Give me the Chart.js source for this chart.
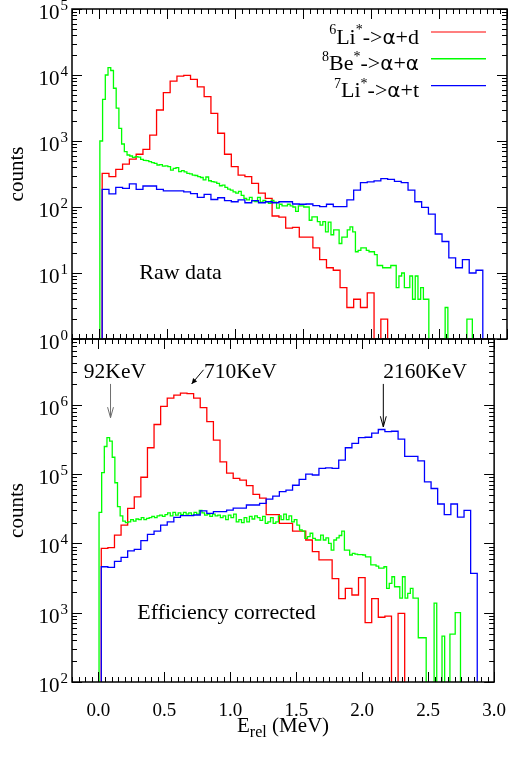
<!DOCTYPE html>
<html>
<head>
<meta charset="utf-8">
<script src="https://cdn.jsdelivr.net/npm/chart.js"></script>
<style>
  body { margin: 0; background: #fff; }
  #wrap { position: relative; width: 524px; height: 767px; }
  #wrap canvas { position: absolute; left: 0; top: 0; }
</style>
</head>
<body>
<div id="wrap">
  <canvas id="effChart" width="524" height="767"></canvas>
  <canvas id="rawChart" width="524" height="767"></canvas>
</div>
<script>
// binning (MeV): red and blue use 50 keV bins, green 20 keV bins
var rbStart = 0.022, rbWidth = 0.05;
var gStart = 0.005, gWidth = 0.02;

var xMin = -0.2, xMax = 3.0, xMinorStep = 0.05;
var xTicks = [0, 0.5, 1, 1.5, 2, 2.5, 3];
var rawYTicks = [1, 10, 100, 1000, 10000, 100000];
var effYTicks = [100, 1000, 10000, 100000, 1000000];
var rawYRange = [1, 1e5];
var effYRange = [100, 8.9e6];

// legend names: [text, 0 normal / 1 superscript / 2 symbol]
var seriesNames = [
  [['6', 1], ['Li', 0], ['*', 1], ['->', 0], ['\u03b1', 2], ['+d', 0]],
  [['8', 1], ['Be', 0], ['*', 1], ['->', 0], ['\u03b1', 2], ['+', 0], ['\u03b1', 2]],
  [['7', 1], ['Li', 0], ['*', 1], ['->', 0], ['\u03b1', 2], ['+t', 0]]
];
var seriesColors = ['rgb(255,0,0)', 'rgb(0,255,0)', 'rgb(0,0,255)'];

// raw data (counts per bin)
var rawRed = [324, 288, 372, 446, 530, 630, 745, 1230, 2950, 5400, 8100, 9600, 9900, 8560, 6630, 4700, 2630, 1310, 630, 410,
  303, 288, 228, 162, 135, 73, 70, 48, 49, 35, 35, 24, 16, 12, 11, 6, 3, 4, 3, 5, 0, 2];
var rawGreen = [1000, 4270, 10000, 12900, 11700, 6300, 3150, 1550, 900, 690,
  614, 593, 566, 580, 570, 526, 510, 503, 486, 470,
  457, 433, 440, 417, 420, 410, 363, 385, 395, 343,
  355, 340, 324, 318, 305, 300, 288, 280, 257, 285,
  250, 242, 238, 228, 210, 215, 198, 187, 180, 170,
  162, 172, 150, 135, 128, 140, 124, 121, 140, 118,
  126, 120, 114, 126, 118, 96, 110, 104, 104, 110,
  104, 100, 86, 104, 104, 100, 100, 63, 71, 71,
  60, 53, 60, 42, 59, 38, 45, 45, 28, 35,
  35, 45, 50, 42, 21, 22, 24, 24, 22, 21,
  21, 19, 13, 13, 12, 12, 12, 13, 13, 6,
  9, 10, 6, 6, 9, 4, 9, 4, 6, 4,
  4, 0, 0, 0, 0, 0, 0, 3, 0, 0,
  0, 0, 0, 0, 0, 2, 2];
var rawBlue = [185, 158, 199, 192, 224, 185, 208, 208, 185, 176, 176, 176, 170, 160, 140, 155, 130, 138, 125, 120,
  128, 116, 125, 116, 120, 116, 120, 120, 111, 110, 111, 105, 101, 110, 101, 101, 128, 180, 234, 240,
  248, 270, 262, 245, 234, 180, 120, 99, 78, 39, 30, 17, 12, 16, 10, 11];

// efficiency corrected
var effRed = [8500, 8700, 13200, 18400, 32000, 47000, 90000, 240000, 520000, 950000,
  1250000, 1380000, 1470000, 1450000, 1250000, 910000, 570000, 310000, 150000, 103000,
  87000, 82000, 68000, 51000, 45000, 26000, 26000, 19400, 19400, 15000,
  15000, 11200, 7600, 5800, 5800, 3100, 1600, 2240, 1800, 3200,
  720, 1600, 860, 895, 0, 980];
var effGreen = [28000, 105000, 250000, 335000, 300000, 175000, 75000, 34000, 25000, 21000,
  20000, 20500, 22000, 21000, 22500, 22000, 23500, 22000, 23000, 23500,
  24500, 23500, 25000, 25500, 24500, 26000, 27500, 25000, 28000, 25500,
  27500, 26000, 28000, 26500, 27500, 25500, 28000, 26500, 30000, 27500,
  25500, 26500, 24500, 26500, 25000, 25500, 23500, 25000, 22000, 25500,
  23500, 26500, 20500, 22000, 20000, 23500, 20500, 24500, 22500, 25000,
  23500, 21500, 24500, 19500, 20500, 23500, 19500, 20500, 25000, 22000,
  26500, 22000, 25000, 20500, 22000, 18400, 15600, 15000, 11800, 12500,
  14000, 11800, 11200, 11200, 13200, 11200, 12000, 10000, 8000, 11200,
  12000, 13000, 15000, 8000, 8000, 6800, 7200, 7000, 6900, 6900,
  6800, 6400, 6400, 4900, 4900, 4700, 4400, 4400, 4600, 2240,
  2650, 3300, 2370, 2370, 1620, 3300, 1620, 1900, 2240, 1620,
  1620, 435, 435, 435, 0, 0, 0, 1370, 0, 0,
  460, 0, 0, 490, 490, 1000, 1000];
var effBlue = [4600, 4500, 5500, 6300, 7800, 8200, 11000, 13500, 15000, 18400,
  20500, 23700, 25100, 25100, 25700, 29500, 27200, 28700, 28700, 30300,
  32200, 32200, 35800, 35800, 37800, 43400, 48000, 55700, 58700, 69000,
  84000, 100000, 97000, 121000, 123000, 121000, 159000, 240000, 277000, 335000,
  340000, 390000, 440000, 410000, 415000, 320000, 180000, 180000, 155000, 77000,
  62000, 37000, 26000, 37000, 24000, 30000, 3700];

// peak annotations on the corrected panel: text position, arrow tail, arrow tip (data coords)
var peakNotes = [
  { text: '92KeV', at: [-0.11, 2.44e6], from: [0.092, 2.0e6], to: [0.092, 6.5e5], color: '#6e6e6e', head: 'open' },
  { text: '710KeV', at: [0.80, 2.44e6], from: [0.797, 3.2e6], to: [0.707, 2.0e6], color: '#000', head: 'filled' },
  { text: '2160KeV', at: [2.16, 2.44e6], from: [2.16, 2.0e6], to: [2.16, 4.8e5], color: '#000', head: 'open' }
];

var serif = '"Liberation Serif", "Times New Roman", serif';
var symbolFont = '"DejaVu Sans", sans-serif';

function histPoints(counts, start, width, floor) {
  var pts = [{ x: start, y: floor }];
  counts.forEach(function (c, i) {
    pts.push({ x: start + i * width, y: c > 0 ? c : floor });
  });
  pts.push({ x: start + counts.length * width, y: floor });
  return pts;
}

// text made of pieces: 0 normal, 1 superscript, -1 subscript, 2 symbol
function pieceFont(mode, size, small) {
  if (mode === 1 || mode === -1) return small + 'px ' + serif;
  if (mode === 2) return Math.round(size * 0.9) + 'px ' + symbolFont;
  return size + 'px ' + serif;
}
function drawRich(ctx, parts, x, y, align, size, small) {
  var widths = [], total = 0;
  parts.forEach(function (p) {
    ctx.font = pieceFont(p[1], size, small);
    var w = ctx.measureText(p[0]).width;
    widths.push(w);
    total += w;
  });
  var cx = align === 'right' ? x - total : (align === 'center' ? x - total / 2 : x);
  ctx.textAlign = 'left';
  ctx.textBaseline = 'alphabetic';
  parts.forEach(function (p, i) {
    ctx.font = pieceFont(p[1], size, small);
    var dy = p[1] === 1 ? -size * 0.42 : (p[1] === -1 ? size * 0.22 : 0);
    ctx.fillText(p[0], cx, y + dy);
    cx += widths[i];
  });
}

function arrow(ctx, x0, y0, x1, y1, color, head) {
  ctx.save();
  ctx.strokeStyle = color;
  ctx.fillStyle = color;
  ctx.lineWidth = 1;
  ctx.beginPath();
  ctx.moveTo(x0, y0);
  ctx.lineTo(x1, y1);
  ctx.stroke();
  var ang = Math.atan2(y1 - y0, x1 - x0);
  var len = head === 'filled' ? 6 : 11, spread = head === 'filled' ? 0.45 : 0.27;
  var ax = x1 - len * Math.cos(ang - spread), ay = y1 - len * Math.sin(ang - spread);
  var bx = x1 - len * Math.cos(ang + spread), by = y1 - len * Math.sin(ang + spread);
  ctx.beginPath();
  ctx.moveTo(ax, ay);
  ctx.lineTo(x1, y1);
  ctx.lineTo(bx, by);
  if (head === 'filled') { ctx.closePath(); ctx.fill(); } else { ctx.stroke(); }
  ctx.restore();
}

var framePlugin = {
  id: 'frame',
  afterDatasetsDraw: function (chart, args, opts) {
    var ctx = chart.ctx, a = chart.chartArea, x = chart.scales.x, y = chart.scales.y;
    ctx.save();
    ctx.strokeStyle = '#000';
    ctx.lineWidth = 1;
    ctx.beginPath();
    // x ticks, pointing inwards on bottom and top
    var n = Math.round((xMax - xMin) / xMinorStep);
    for (var i = 0; i <= n; i++) {
      var v = Math.round((xMin + i * xMinorStep) * 1000) / 1000;
      var major = xTicks.indexOf(v) >= 0;
      var len = major ? 10 : 5;
      var px = Math.round(x.getPixelForValue(v)) + 0.5;
      ctx.moveTo(px, a.bottom); ctx.lineTo(px, a.bottom - len);
      ctx.moveTo(px, a.top); ctx.lineTo(px, a.top + len);
    }
    // log y ticks on left and right
    var e0 = Math.floor(Math.log10(y.min)), e1 = Math.ceil(Math.log10(y.max));
    for (var e = e0; e <= e1; e++) {
      for (var m = 1; m <= 9; m++) {
        var val = m * Math.pow(10, e);
        if (val < y.min * 0.999 || val > y.max * 1.001) continue;
        var l = m === 1 ? 10 : 5;
        var py = Math.round(y.getPixelForValue(val)) + 0.5;
        ctx.moveTo(a.left, py); ctx.lineTo(a.left + l, py);
        ctx.moveTo(a.right, py); ctx.lineTo(a.right - l, py);
      }
    }
    ctx.stroke();
    ctx.lineWidth = 1.5;
    ctx.strokeRect(a.left, a.top, a.right - a.left, a.bottom - a.top);

    // y tick labels 10^n
    ctx.fillStyle = '#000';
    opts.yTicks.forEach(function (t) {
      var py = y.getPixelForValue(t);
      ctx.font = '15px ' + serif;
      ctx.textAlign = 'right';
      ctx.textBaseline = 'alphabetic';
      var ex = String(Math.round(Math.log10(t)));
      var ew = ctx.measureText(ex).width;
      ctx.fillText(ex, a.left - 4, py + 1);
      ctx.font = '21px ' + serif;
      ctx.fillText('10', a.left - 5 - ew, py + 10);
    });
    // y title
    ctx.save();
    ctx.translate(17.5, (a.top + a.bottom) / 2);
    ctx.rotate(-Math.PI / 2);
    ctx.font = '21px ' + serif;
    ctx.textAlign = 'center';
    ctx.textBaseline = 'middle';
    ctx.fillText('counts', 0, 0);
    ctx.restore();

    // panel caption
    ctx.font = '22px ' + serif;
    ctx.textAlign = 'left';
    ctx.textBaseline = 'alphabetic';
    ctx.fillText(opts.caption[0], x.getPixelForValue(opts.caption[1]), y.getPixelForValue(opts.caption[2]));

    if (opts.legend) {
      seriesNames.forEach(function (parts, i) {
        var ly = a.top + 23 + i * 26.8;
        drawRich(ctx, parts, a.right - 88, ly + 11.5, 'right', 22, 14);
        ctx.strokeStyle = seriesColors[i];
        ctx.lineWidth = i === 1 ? 1.6 : 1.2;
        ctx.beginPath();
        ctx.moveTo(a.right - 76, ly);
        ctx.lineTo(a.right - 21, ly);
        ctx.stroke();
      });
    }
    if (opts.notes) {
      peakNotes.forEach(function (nt) {
        ctx.fillStyle = '#000';
        ctx.font = '21.5px ' + serif;
        ctx.textAlign = 'left';
        ctx.textBaseline = 'alphabetic';
        ctx.fillText(nt.text, x.getPixelForValue(nt.at[0]), y.getPixelForValue(nt.at[1]));
        arrow(ctx, x.getPixelForValue(nt.from[0]), y.getPixelForValue(nt.from[1]),
          x.getPixelForValue(nt.to[0]), y.getPixelForValue(nt.to[1]), nt.color, nt.head);
      });
    }
    if (opts.xTitle) {
      ctx.fillStyle = '#000';
      drawRich(ctx, [['E', 0], ['rel', -1], [' (MeV)', 0]], (a.left + a.right) / 2, 732, 'center', 21, 16);
    }
    ctx.restore();
  }
};

function histSet(counts, start, width, floor, colorIdx) {
  return {
    data: histPoints(counts, start, width, floor),
    borderColor: seriesColors[colorIdx],
    borderWidth: 1.3,
    pointRadius: 0,
    fill: false,
    stepped: 'before',
    order: 3 - colorIdx
  };
}

function makePanel(id, red, green, blue, yRange, floor, padTop, padBottom, frameOpts, showX) {
  return new Chart(document.getElementById(id), {
    type: 'line',
    data: {
      datasets: [
        histSet(red, rbStart, rbWidth, floor, 0),
        histSet(green, gStart, gWidth, floor, 1),
        histSet(blue, rbStart, rbWidth, floor, 2)
      ]
    },
    options: {
      responsive: false,
      animation: false,
      devicePixelRatio: 1,
      events: [],
      layout: { padding: { left: 72, right: 17, top: padTop, bottom: padBottom } },
      plugins: { legend: { display: false }, tooltip: { enabled: false }, frame: frameOpts },
      scales: {
        x: {
          type: 'linear',
          min: xMin,
          max: xMax,
          display: showX,
          afterBuildTicks: function (s) { s.ticks = xTicks.map(function (v) { return { value: v }; }); },
          afterFit: function (s) { s.height = showX ? 85 : 0; },
          grid: { display: false, drawTicks: false },
          border: { display: false },
          ticks: {
            padding: 18,
            autoSkip: false,
            maxRotation: 0,
            color: '#000',
            font: { family: serif, size: 19 },
            callback: function (v) { return Number(v).toFixed(1); }
          }
        },
        y: { type: 'logarithmic', min: yRange[0], max: yRange[1], display: false }
      }
    },
    plugins: [framePlugin]
  });
}

makePanel('rawChart', rawRed, rawGreen, rawBlue, rawYRange, 0.01, 9, 428,
  { yTicks: rawYTicks, caption: ['Raw data', 0.295, 8.1], legend: true }, false);
makePanel('effChart', effRed, effGreen, effBlue, effYRange, 1, 339, 0,
  { yTicks: effYTicks, caption: ['Efficiency corrected', 0.295, 813], notes: true, xTitle: true }, true);
</script>
</body>
</html>
